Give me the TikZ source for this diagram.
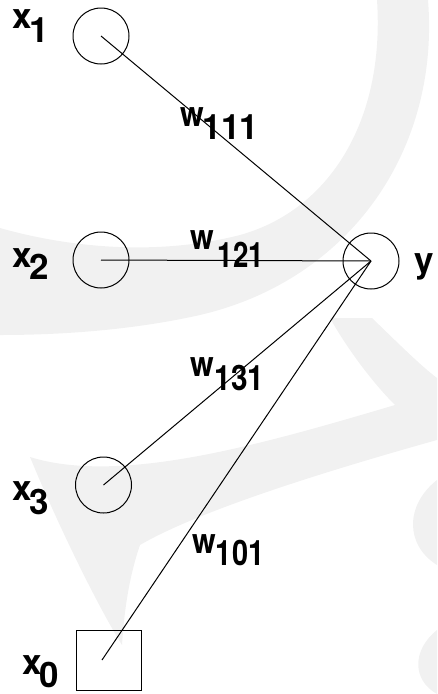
\documentclass[tikz,border=0pt]{standalone}
\usepackage{fontspec}
\newfontfamily\lblfont{texgyreheros-bold.otf}
\usepackage{graphicx}
\definecolor{wm}{RGB}{241,241,241}
\begin{document}
\begin{tikzpicture}[x=1pt,y=-1pt,
  neuron/.style={draw,circle,minimum size=56pt,inner sep=0pt,line width=1pt},
  biasbox/.style={draw,rectangle,minimum width=65pt,minimum height=60pt,inner sep=0pt,line width=1pt},
  conn/.style={line width=1pt},
  lbl/.style={anchor=base west,inner sep=0pt,font=\lblfont\fontsize{35}{42}\selectfont}]
\useasboundingbox (0,0) rectangle (437,694);
% watermark
\fill[wm] (377,0) -- (428,0) .. controls (440,150) and (350,280) .. (200,315)
  .. controls (120,333) and (40,335) .. (0,335) -- (0,228)
  .. controls (60,245) and (150,258) .. (240,235)
  .. controls (330,210) and (385,120) .. (377,0) -- cycle;
\fill[wm] (330,318) -- (372,318) .. controls (400,345) and (420,365) .. (437,378) -- (437,440)
  .. controls (330,470) and (200,510) .. (140,545)
  .. controls (128,580) and (124,615) .. (122,645)
  .. controls (100,610) and (60,530) .. (30,457)
  .. controls (120,485) and (260,445) .. (395,405)
  .. controls (370,380) and (345,345) .. (330,318) -- cycle;
\fill[wm] (437,480) .. controls (405,505) and (405,545) .. (437,565) -- cycle;
\fill[wm] (437,630) .. controls (412,650) and (412,680) .. (437,694) -- cycle;
% nodes
\node[neuron] (x1) at (101,36) {};
\node[neuron] (x2) at (101,260) {};
\node[neuron] (x3) at (103.5,485) {};
\node[neuron] (y) at (371,261) {};
\node[biasbox] (x0) at (108.5,660) {};
\coordinate (x0in) at (102,660);
% connectors
\draw[conn] (y.center) -- (x1.center);
\draw[conn] (y.center) -- (x2.center);
\draw[conn] (y.center) -- (x3.center);
\draw[conn] (y.center) -- (x0in);
% labels
\node[lbl] (lx1) at (12,28) {x\kern-2pt\lower14pt\hbox{1}};
\node[lbl] (lx2) at (12,267) {x\kern-2pt\lower12pt\hbox{2}};
\node[lbl] (lx3) at (12,500) {x\kern-2pt\lower14pt\hbox{3}};
\node[lbl] (lx0) at (22,674) {x\kern-2pt\lower13pt\hbox{0}};
\node[lbl] (ly) at (414,272) {y};
\node[lbl] (w111) at (180,126) {\scalebox{0.87}[1]{w}\kern-1.7pt\lower13pt\hbox{\scalebox{0.97}[1]{111}}};
\node[lbl] (w121) at (190,249) {\scalebox{0.87}[1]{w}\kern4pt\lower18pt\hbox{\scalebox{0.79}[1]{121}}};
\node[lbl] (w131) at (190,376) {\scalebox{0.87}[1]{w}\kern0.8pt\lower14pt\hbox{\scalebox{0.85}[1]{131}}};
\node[lbl] (w101) at (192,553) {\scalebox{0.87}[1]{w}\kern0pt\lower12pt\hbox{\scalebox{0.83}[1]{101}}};
\end{tikzpicture}
\end{document}
